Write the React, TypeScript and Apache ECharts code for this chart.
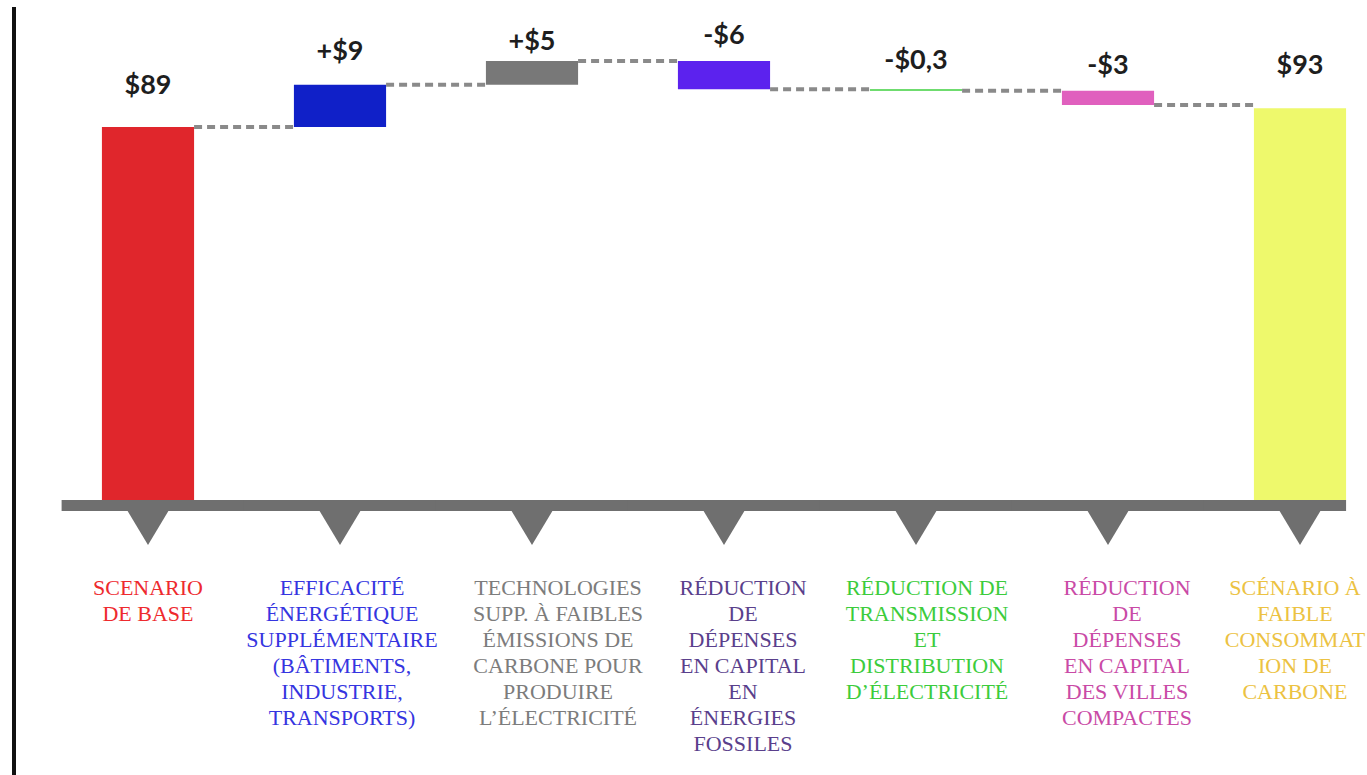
import React, { useEffect, useRef } from "react";
import * as echarts from "echarts";

// Category labels (multi-line, as set under the axis)
const categories = [
  "SCENARIO\nDE BASE",
  "EFFICACITÉ\nÉNERGÉTIQUE\nSUPPLÉMENTAIRE\n(BÂTIMENTS,\nINDUSTRIE,\nTRANSPORTS)",
  "TECHNOLOGIES\nSUPP. À FAIBLES\nÉMISSIONS DE\nCARBONE POUR\nPRODUIRE\nL’ÉLECTRICITÉ",
  "RÉDUCTION\nDE\nDÉPENSES\nEN CAPITAL\nEN\nÉNERGIES\nFOSSILES",
  "RÉDUCTION DE\nTRANSMISSION\nET\nDISTRIBUTION\nD’ÉLECTRICITÉ",
  "RÉDUCTION\nDE\nDÉPENSES\nEN CAPITAL\nDES VILLES\nCOMPACTES",
  "SCÉNARIO À\nFAIBLE\nCONSOMMAT\nION DE\nCARBONE",
];

// "total" bars stand on the axis, "delta" bars float on the running total
const kinds = ["total", "delta", "delta", "delta", "delta", "delta", "total"];
const values = [89, 9, 5, -6, -0.3, -3, 93];

const barColors = ["#e0262c", "#1020c8", "#787878", "#5c22ee", "#3fd13f", "#e060be", "#eef96c"];
const labelColors = ["#ee2a2e", "#3535e0", "#7c7c7c", "#5a3f8c", "#3ccc3c", "#c94aa6", "#ecc242"];

// Hidden value axis range
const yMin = 10;
const yMax = 110;

const fmtNum = (v: number) => String(v).replace(".", ",");
const valueText = (v: number, kind: string) =>
  kind === "total" ? `$${fmtNum(v)}` : `${v >= 0 ? "+" : "-"}$${fmtNum(Math.abs(v))}`;

// Layout tweaks: gap between a bar and its value label, horizontal nudge of category text
const valueLabelGap = [30, 22, 8, 14, 17, 14, 31];
const categoryNudge = [0, 2, 26, 19, 11, 19, -5];

export default function App() {
  const ref = useRef<HTMLDivElement>(null);

  useEffect(() => {
    if (!ref.current) return;
    const chart = echarts.init(ref.current, undefined, { renderer: "svg" });

    // Build waterfall stacks: invisible helper + visible segment
    const helper: number[] = [];
    const visible: number[] = [];
    const levels: number[] = [];
    let running = 0;
    values.forEach((v, i) => {
      if (kinds[i] === "total") {
        helper.push(0);
        visible.push(v);
        running = v;
      } else {
        const end = running + v;
        helper.push(Math.min(running, end));
        visible.push(Math.abs(v));
        running = end;
      }
      levels.push(running);
    });

    const barRatio = 0.48;
    const n = categories.length;

    const rich: Record<string, any> = {};
    labelColors.forEach((c, i) => {
      const d = categoryNudge[i];
      rich["c" + i] = {
        color: c,
        fontFamily: "'Liberation Serif', 'Times New Roman', serif",
        fontSize: 22,
        lineHeight: 26,
        align: "center",
        padding: d >= 0 ? [0, 0, 0, d * 2] : [0, -d * 2, 0, 0],
      };
    });

    chart.setOption({
      animation: false,
      backgroundColor: "#ffffff",
      grid: { left: 52, right: 4, top: 28, bottom: 275, containLabel: false },
      xAxis: {
        type: "category",
        data: categories,
        axisLine: { show: false },
        axisTick: { show: false },
        splitLine: { show: false },
        axisLabel: {
          interval: 0,
          margin: 74,
          formatter: (val: string, idx: number) =>
            val
              .split("\n")
              .map((line) => `{c${idx}|${line}}`)
              .join("\n"),
          rich,
        },
      },
      yAxis: {
        type: "value",
        min: yMin,
        max: yMax,
        show: false,
        splitLine: { show: false },
      },
      graphic: [
        {
          type: "rect",
          shape: { x: 12, y: 7, width: 4, height: 768 },
          style: { fill: "#111111" },
          silent: true,
        },
      ],
      series: [
        {
          name: "base",
          type: "bar",
          stack: "w",
          barWidth: barRatio * 100 + "%",
          itemStyle: { color: "transparent" },
          emphasis: { disabled: true },
          data: helper,
          clip: true,
        },
        {
          name: "value",
          type: "bar",
          stack: "w",
          barWidth: barRatio * 100 + "%",
          clip: true,
          data: visible.map((v, i) => ({
            value: v,
            itemStyle: { color: barColors[i] },
            label: { distance: valueLabelGap[i] },
          })),
          label: {
            show: true,
            position: "top",
            fontFamily: "Lato, 'Open Sans', sans-serif",
            fontWeight: "bold",
            fontSize: 27,
            color: "#1e1e1e",
            formatter: (p: any) => valueText(values[p.dataIndex], kinds[p.dataIndex]),
          },
        },
        {
          name: "connectors",
          type: "custom",
          clip: false,
          z: 3,
          data: levels.slice(0, n - 1).map((lv, i) => [i, lv]),
          encode: { x: 0, y: 1 },
          renderItem: (_params: any, api: any) => {
            const i = api.value(0);
            const lv = api.value(1);
            const p = api.coord([i, lv]);
            const band = api.size([1, 0])[0];
            const half = (band * barRatio) / 2;
            return {
              type: "line",
              shape: { x1: p[0] + half, y1: p[1], x2: p[0] + band - half, y2: p[1] },
              style: { stroke: "#8a8a8a", lineWidth: 4, lineDash: [8, 5] },
            };
          },
        },
        {
          name: "axis",
          type: "custom",
          clip: false,
          z: 4,
          data: categories.map((_c, i) => [i, yMin]),
          encode: { x: 0, y: 1 },
          renderItem: (_params: any, api: any) => {
            const i = api.value(0);
            const p = api.coord([i, yMin]);
            const band = api.size([1, 0])[0];
            const left = i === 0 ? p[0] - band * 0.45 : p[0] - band / 2 - 0.5;
            const right = i === n - 1 ? p[0] + band * 0.24 : p[0] + band / 2 + 0.5;
            return {
              type: "group",
              children: [
                {
                  type: "rect",
                  shape: { x: left, y: p[1], width: right - left, height: 11 },
                  style: { fill: "#6f6f6f" },
                },
                {
                  type: "polygon",
                  shape: {
                    points: [
                      [p[0] - 21, p[1] + 10],
                      [p[0] + 21, p[1] + 10],
                      [p[0], p[1] + 45],
                    ],
                  },
                  style: { fill: "#6f6f6f" },
                },
              ],
            };
          },
        },
      ],
    });

    return () => chart.dispose();
  }, []);

  return (
    <div
      style={{
        position: "fixed",
        left: 0,
        top: 0,
        width: 1367,
        height: 775,
        overflow: "hidden",
        background: "#ffffff",
      }}
    >
      <div ref={ref} style={{ width: 1400, height: 775 }} />
    </div>
  );
}
